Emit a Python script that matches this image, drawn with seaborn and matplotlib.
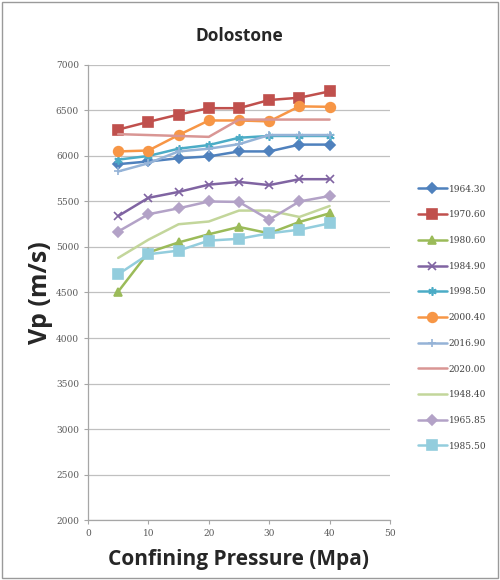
import matplotlib
matplotlib.use("Agg")
import matplotlib.pyplot as plt
import seaborn as sns
import pandas as pd
from matplotlib.patches import Rectangle

sns.set_style("white")
plt.rcParams['font.family'] = ['Open Sans', 'DejaVu Sans']

# confining pressure steps (MPa)
pressure = [5, 10, 15, 20, 25, 30, 35, 40]

# Vp (m/s) for each sample depth
s1964_30 = [5910, 5940, 5975, 5995, 6050, 6050, 6125, 6125]
s1970_60 = [6290, 6375, 6455, 6525, 6525, 6615, 6640, 6710]
s1980_60 = [4510, 4940, 5050, 5140, 5220, 5150, 5275, 5370]
s1984_90 = [5340, 5540, 5605, 5685, 5715, 5680, 5745, 5745]
s1998_50 = [5960, 6000, 6080, 6120, 6200, 6220, 6220, 6220]
s2000_40 = [6050, 6060, 6230, 6390, 6390, 6380, 6545, 6540]
s2016_90 = [5830, 5920, 6050, 6080, 6130, 6230, 6230, 6230]
s2020_00 = [6240, 6230, 6220, 6210, 6400, 6400, 6400, 6400]
s1948_40 = [4880, 5080, 5250, 5280, 5400, 5400, 5330, 5450]
s1965_85 = [5170, 5360, 5425, 5500, 5495, 5300, 5500, 5560]
s1985_50 = [4700, 4920, 4960, 5070, 5090, 5150, 5190, 5260]

series = {
    '1964.30': s1964_30, '1970.60': s1970_60, '1980.60': s1980_60,
    '1984.90': s1984_90, '1998.50': s1998_50, '2000.40': s2000_40,
    '2016.90': s2016_90, '2020.00': s2020_00, '1948.40': s1948_40,
    '1965.85': s1965_85, '1985.50': s1985_50,
}

rows = []
for name, vals in series.items():
    for p, v in zip(pressure, vals):
        rows.append({'sample': name, 'pressure': p, 'vp': v})
df = pd.DataFrame(rows)

# excel-ish styles: colour, marker, marker size
styles = {
    '1964.30': ('#4F81BD', 'D', 5),
    '1970.60': ('#C0504D', 's', 7.5),
    '1980.60': ('#9BBB59', '^', 6),
    '1984.90': ('#8064A2', 'x', 6),
    '1998.50': ('#4BACC6', (6, 2, 0), 6),
    '2000.40': ('#F79646', 'o', 7),
    '2016.90': ('#95B3D7', '+', 6),
    '2020.00': ('#D99694', None, 0),
    '1948.40': ('#C3D69B', None, 0),
    '1965.85': ('#B3A2C7', 'D', 5),
    '1985.50': ('#93CDDD', 's', 7.5),
}

fig = plt.figure(figsize=(5, 5.8), dpi=100)
ax = fig.add_axes([0.176, 0.1034, 0.604, 0.7846])

for name in series:
    c, m, ms = styles[name]
    kw = dict(color=c, linewidth=1.8, label=name, ax=ax)
    if m is not None:
        kw.update(marker=m, markersize=ms, markeredgecolor=c, markeredgewidth=1.2)
    sns.lineplot(data=df[df['sample'] == name], x='pressure', y='vp', **kw)

ax.set_xlim(0, 50)
ax.set_ylim(2000, 7000)
ax.set_xticks(range(0, 51, 10))
ax.set_yticks(range(2000, 7001, 500))
ax.yaxis.grid(True, color='#c0c0c0', linewidth=0.9)
ax.xaxis.grid(False)
for s in ['top', 'right']:
    ax.spines[s].set_visible(False)
for s in ['left', 'bottom']:
    ax.spines[s].set_color('#a6a6a6')
    ax.spines[s].set_linewidth(0.9)
ax.tick_params(axis='both', labelsize=6.5, labelcolor='#595959', length=3,
               color='#a6a6a6', direction='out', left=True, bottom=True)
for lbl in ax.get_xticklabels() + ax.get_yticklabels():
    lbl.set_family('DejaVu Serif')

ax.set_xlabel('Confining Pressure (Mpa)', fontsize=15, fontweight='bold',
              labelpad=8)
ax.set_ylabel('Vp (m/s)', fontsize=18, fontweight='bold', labelpad=2)
ax.set_title('Dolostone', fontsize=12.5, fontweight='bold', pad=17)

leg = ax.legend(loc='upper left', bbox_to_anchor=(1.08, 0.745), frameon=False,
                fontsize=6.5, handlelength=3.2, labelspacing=1.85,
                handletextpad=0.25, borderaxespad=0)
for t in leg.get_texts():
    t.set_color('#404040')
    t.set_family('DejaVu Serif')

fig.patches.append(Rectangle((0.004, 0.003), 0.992, 0.994, transform=fig.transFigure,
                             fill=False, edgecolor='#9a9a9a', linewidth=1.0))

fig.savefig('out.png', dpi=100, facecolor='white')
